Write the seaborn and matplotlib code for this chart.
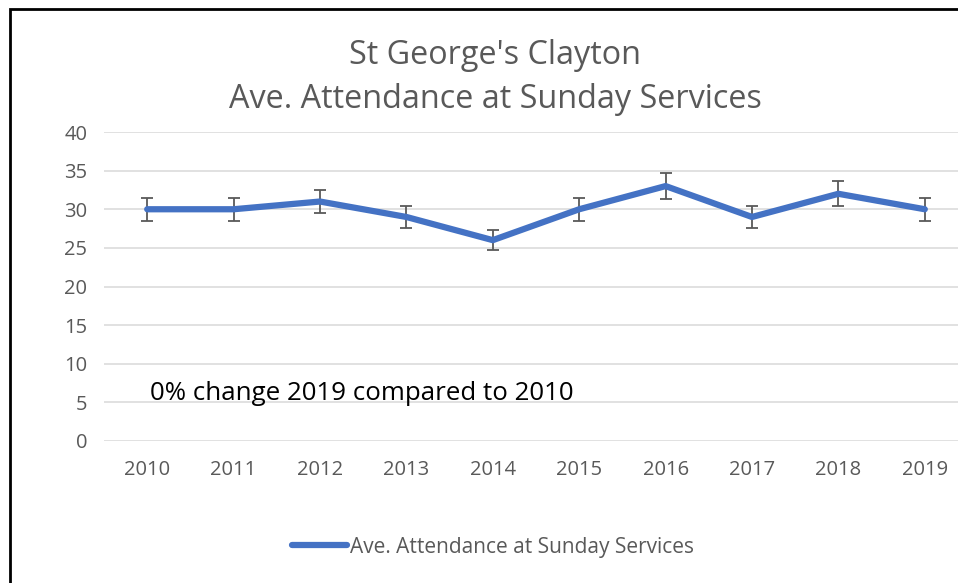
import matplotlib
matplotlib.use("Agg")
import matplotlib.pyplot as plt
from matplotlib.patches import Rectangle
import seaborn as sns
import pandas as pd

# Data
years = [2010, 2011, 2012, 2013, 2014, 2015, 2016, 2017, 2018, 2019]
attendance = [30, 30, 31, 29, 26, 30, 33, 29, 32, 30]
error = [1.5, 1.5, 1.55, 1.45, 1.3, 1.5, 1.65, 1.45, 1.6, 1.5]
series_name = "Ave. Attendance at Sunday Services"

df = pd.DataFrame({"Year": years, "Attendance": attendance})

sns.set_theme(style="white")
plt.rcParams["font.family"] = ["Open Sans", "DejaVu Sans"]

grey = "#595959"
blue = "#4472C4"

fig = plt.figure(figsize=(9.58, 5.83), dpi=100)
ax = fig.add_axes([104 / 958, 1 - 441 / 583, 864 / 958, 309 / 583])

# error bars
ax.errorbar(years, attendance, yerr=error, fmt="none", ecolor=grey,
            elinewidth=1.3, capsize=4, capthick=1.3, zorder=2)

sns.lineplot(data=df, x="Year", y="Attendance", ax=ax, color=blue,
             linewidth=4.5, label=series_name, zorder=3)

ax.set_xlim(2009.5, 2019.5)
ax.set_ylim(0, 40)
ax.set_yticks(range(0, 41, 5))
ax.set_xticks(years)
ax.set_xlabel("")
ax.set_ylabel("")

ax.grid(axis="y", color="#d9d9d9", linewidth=1.1)
ax.grid(axis="x", visible=False)
for s in ax.spines.values():
    s.set_visible(False)

ax.tick_params(axis="y", length=0, pad=12, labelsize=14.5, labelcolor=grey)
ax.tick_params(axis="x", length=0, pad=14, labelsize=14.5, labelcolor=grey)

ax.text(0.053, 0.155, "0% change 2019 compared to 2010", transform=ax.transAxes,
        fontsize=18.6, color="black", va="center", ha="left")

# title
fig.text(495 / 958, 1 - 55 / 583, "St George's Clayton",
         ha="center", va="center", fontsize=23.3, color=grey)
fig.text(495 / 958, 1 - 99 / 583, "Ave. Attendance at Sunday Services",
         ha="center", va="center", fontsize=23.3, color=grey)

# legend below chart
ax.get_legend().remove()
handles, labels = ax.get_legend_handles_labels()
fig.legend(handles, labels, loc="center", bbox_to_anchor=(493 / 958, 1 - 547 / 583),
           frameon=False, fontsize=15, labelcolor=grey, handlelength=2.6,
           handletextpad=0.15)

# chart border (cropped on right and bottom)
fig.patches.append(Rectangle((10 / 958, -0.05), 1.2, 1 - 9 / 583 + 0.05,
                             transform=fig.transFigure, fill=False,
                             edgecolor="black", linewidth=2, zorder=10))

fig.savefig("out.png", dpi=100)
